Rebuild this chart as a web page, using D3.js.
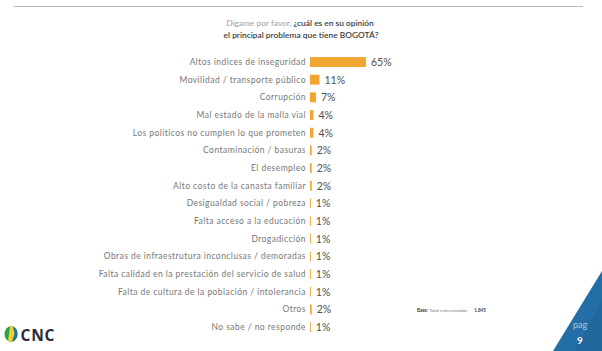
<!DOCTYPE html>
<html>
<head>
<meta charset="utf-8">
<script src="https://cdn.jsdelivr.net/npm/d3@7"></script>
<style>
  html, body { margin: 0; padding: 0; background: #fff; }
  svg { display: block; }
</style>
</head>
<body>
<svg id="chart" width="602" height="351"></svg>
<script>
// Survey responses: main problem of Bogotá (% of respondents)
const categories = [
  "Altos índices de inseguridad",
  "Movilidad / transporte público",
  "Corrupción",
  "Mal estado de la malla vial",
  "Los políticos no cumplen lo que prometen",
  "Contaminación / basuras",
  "El desempleo",
  "Alto costo de la canasta familiar",
  "Desigualdad social / pobreza",
  "Falta acceso a la educación",
  "Drogadicción",
  "Obras de infraestrutura inconclusas / demoradas",
  "Falta calidad en la prestación del servicio de salud",
  "Falta de cultura de la población / intolerancia",
  "Otros",
  "No sabe / no responde"
];
const values = [65, 11, 7, 4, 4, 2, 2, 2, 1, 1, 1, 1, 1, 1, 2, 1];
const titleLight = "Dígame por favor, ";
const titleBold1 = "¿cuál es en su opinión";
const titleBold2 = "el principal problema que tiene BOGOTÁ?";

const svg = d3.select("#chart");
const font = "Lato, 'Noto Sans', sans-serif";

// Header rule
svg.append("line")
  .attr("x1", 14).attr("x2", 583).attr("y1", 6.5).attr("y2", 6.5)
  .attr("stroke", "#b9b9b9").attr("stroke-width", 1.2);

// Title
const t1 = svg.append("text")
  .attr("x", 300).attr("y", 26).attr("text-anchor", "middle")
  .attr("font-family", font).attr("font-size", 8.4);
t1.append("tspan").attr("fill", "#a0a0a0").text(titleLight);
t1.append("tspan").attr("fill", "#3c3c3c").attr("font-weight", 600).text(titleBold1);
svg.append("text")
  .attr("x", 301).attr("y", 38).attr("text-anchor", "middle")
  .attr("font-family", font).attr("font-size", 8.4)
  .attr("fill", "#3c3c3c").attr("font-weight", 600).text(titleBold2);

// Scales
const x = d3.scaleLinear().domain([0, 65]).range([310, 366]);
const y = d3.scaleBand().domain(categories).range([55.3, 333.8]).paddingInner(0.44).paddingOuter(0.1);

const rows = svg.append("g");
const row = rows.selectAll("g").data(categories).join("g")
  .attr("transform", d => `translate(0,${y(d)})`);

row.append("rect")
  .attr("x", x(0))
  .attr("y", 0)
  .attr("width", (d, i) => x(values[i]) - x(0))
  .attr("height", y.bandwidth())
  .attr("fill", "#f2a632");

row.append("text")
  .attr("x", 306)
  .attr("y", y.bandwidth() / 2)
  .attr("dy", "0.35em")
  .attr("text-anchor", "end")
  .attr("font-family", font).attr("font-size", 8.5)
  .attr("letter-spacing", 0.45)
  .attr("fill", "#777777")
  .text(d => d);

row.append("text")
  .attr("x", (d, i) => x(values[i]) + 5)
  .attr("y", y.bandwidth() / 2)
  .attr("dy", "0.37em")
  .attr("font-family", font).attr("font-size", 10.5)
  .attr("fill", "#4e4e4e")
  .text((d, i) => values[i] + "%");

// Base note
const base = svg.append("text")
  .attr("x", 417).attr("y", 312)
  .attr("font-family", font).attr("font-size", 4.6).attr("fill", "#777");
base.append("tspan").attr("font-weight", 700).attr("fill", "#333").text("Base: ");
base.append("tspan").text("Total entrevistados");
base.append("tspan").attr("dx", 7).attr("font-weight", 700).attr("fill", "#444").text("1.845");

// Page corner
svg.append("path")
  .attr("d", "M602,271 L553,351 L602,351 Z")
  .attr("fill", "#236ea6");
svg.append("path")
  .attr("d", "M602,300 L575,351 L602,351 Z")
  .attr("fill", "#1c5f93").attr("opacity", 0.5);
svg.append("text")
  .attr("x", 580).attr("y", 328).attr("text-anchor", "middle")
  .attr("font-family", font).attr("font-size", 9).attr("fill", "#a9c6df")
  .text("pag");
svg.append("text")
  .attr("x", 580).attr("y", 344).attr("text-anchor", "middle")
  .attr("font-family", font).attr("font-size", 10).attr("font-weight", 700).attr("fill", "#fff")
  .text("9");

// CNC logo
const logo = svg.append("g").attr("transform", "translate(11,334) scale(1,1.2)");
logo.append("circle").attr("r", 6.5).attr("fill", "#2aa34a");
logo.append("path").attr("d", "M-1,-6.4 A6.5,6.5 0 0 1 6.5,0 A6.5,6.5 0 0 1 0,6.5 L-3,6 Z").attr("fill", "#f1cf2a");
logo.append("path").attr("d", "M2,-6.2 A6.5,6.5 0 0 1 6.5,0 A6.5,6.5 0 0 1 1,6.4 L3.5,0 Z").attr("fill", "#1d6fb5");
svg.append("text")
  .attr("x", 20.5).attr("y", 340.5)
  .attr("font-family", "'Open Sans', sans-serif").attr("font-size", 15.5).attr("font-weight", 700)
  .attr("letter-spacing", 0.8)
  .attr("fill", "#2b2b3a").text("CNC");
</script>
</body>
</html>
